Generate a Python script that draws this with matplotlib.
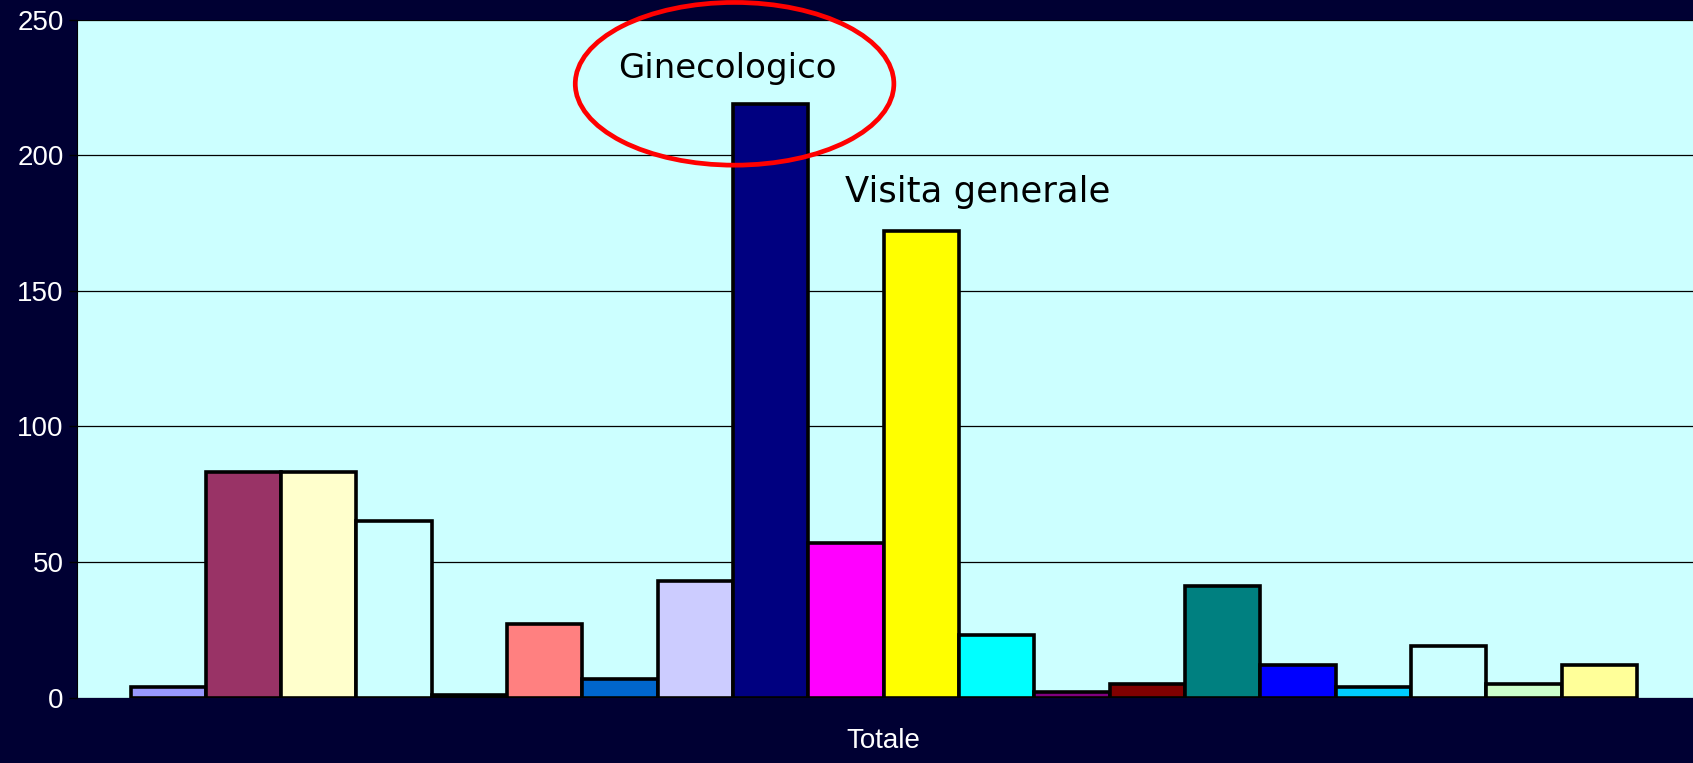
import matplotlib.pyplot as plt
import numpy as np
from matplotlib.patches import Ellipse

# dati (20 serie, una sola categoria "Totale")
category = "Totale"
values = [4, 83, 83, 65, 1, 27, 7, 43, 219, 57, 172, 23, 2, 5, 41, 12, 4, 19, 5, 12]
yticks = [0, 50, 100, 150, 200, 250]
labels = {8: "Ginecologico", 10: "Visita generale"}

colors = ['#9999FF', '#993366', '#FFFFCC', '#CCFFFF', '#660066', '#FF8080',
          '#0066CC', '#CCCCFF', '#000080', '#FF00FF', '#FFFF00', '#00FFFF',
          '#800080', '#800000', '#008080', '#0000FF', '#00CCFF', '#CCFFFF',
          '#CCFFCC', '#FFFF99']

bg = '#000033'
fig = plt.figure(figsize=(16.93, 7.63), dpi=100, facecolor=bg)
ax = fig.add_axes([0.0455, 0.0858, 0.9545, 0.8886])
ax.set_facecolor('#CCFFFF')

x = np.arange(len(values))
ax.bar(x, values, width=1.0, color=colors, edgecolor='black', linewidth=2.6, zorder=3)

ax.set_xlim(-1.21, len(values) + 0.245)
ax.set_ylim(0, 250)
ax.set_yticks(yticks)
ax.set_yticklabels([str(t) for t in yticks], color='white', fontsize=20,
                   family='Liberation Sans')
ax.tick_params(axis='y', colors='black', labelcolor='white', length=6, width=1)
ax.set_xticks([(len(values) - 1) / 2])
ax.set_xticklabels([category], color='white', fontsize=20, family='Liberation Sans')
ax.tick_params(axis='x', length=0, pad=22)
ax.grid(axis='y', color='black', linewidth=0.9, zorder=1)

for s in ['top', 'right', 'bottom']:
    ax.spines[s].set_visible(False)
ax.spines['left'].set_color('black')

# annotazioni
ax.text(7.43, 232, labels[8], fontsize=24.5, ha='center', va='center', color='black', zorder=5)
ax.text(10.75, 186.5, labels[10], fontsize=25.5, ha='center', va='center', color='black', zorder=5)
ell = Ellipse((7.52, 226.3), 4.23, 60, fill=False, edgecolor='#FF0000', linewidth=3.4,
              zorder=6, clip_on=False)
ax.add_patch(ell)

fig.savefig('out.png', dpi=100, facecolor=bg)
